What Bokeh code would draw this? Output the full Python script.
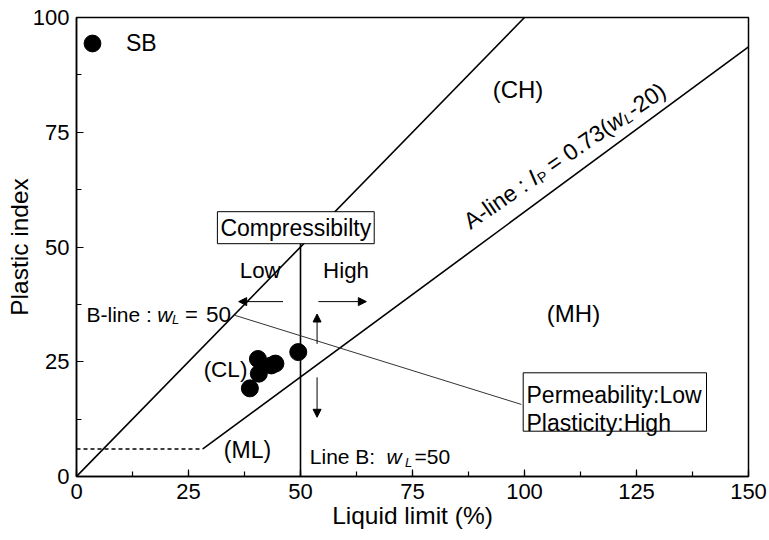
import math
from bokeh.plotting import figure
from bokeh.models import (Range1d, Label, Arrow, NormalHead, SingleIntervalTicker, Legend,
                          LegendItem, BoxAnnotation)
from bokeh.embed import file_html
from bokeh.resources import INLINE

# ---------------- data ----------------
sb_x = [40.5, 44.4, 43.5, 40.7, 38.7, 49.5]
sb_y = [25.6, 24.6, 24.2, 22.4, 19.2, 27.1]

u_line_x = [0, 100]
u_line_y = [0, 100]
a_line_x = [28.2, 150]
a_line_y = [6, 93.6]
ml_dash_x = [0, 28.2]
ml_dash_y = [6, 6]
line_b_x = [50, 50]
line_b_y = [0, 51]
connector_x = [35.4, 99.3]
connector_y = [35.1, 15.7]

x_ticks = [0, 25, 50, 75, 100, 125, 150]
y_ticks = [0, 25, 50, 75, 100]

# pixel -> data helpers (frame: left 76, right 748, top 17, bottom 476)
L, R, T, B = 76, 748, 17, 476
XS = (R - L) / 150.0
YS = (B - T) / 100.0
def dx(px):
    return (px - L) / XS
def dy(py):
    return (B - py) / YS

FONT = "Liberation Sans"

p = figure(width=769, height=540, x_range=Range1d(0, 150), y_range=Range1d(0, 100),
           output_backend="svg", toolbar_location=None,
           min_border_left=L, min_border_right=769 - R, min_border_top=T, min_border_bottom=540 - B)
p.grid.visible = False
p.outline_line_color = "black"
p.outline_line_width = 1.5
p.background_fill_color = "white"
p.border_fill_color = "white"

for ax, ticks in ((p.xaxis, x_ticks), (p.yaxis, y_ticks)):
    ax.ticker = SingleIntervalTicker(interval=ticks[1] - ticks[0], num_minor_ticks=2)
    ax.major_tick_in = 7
    ax.major_tick_out = 0
    ax.minor_tick_in = 5
    ax.minor_tick_out = 0
    ax.axis_line_width = 1.5
    ax.major_tick_line_width = 1.2
    ax.minor_tick_line_width = 1.2
    ax.axis_line_color = "black"
    ax.major_label_text_font = FONT
    ax.major_label_text_font_size = "22px"
    ax.major_label_text_color = "black"
    ax.axis_label_text_font = FONT
    ax.axis_label_text_font_size = "24.5px"
    ax.axis_label_text_font_style = "normal"
    ax.axis_label_text_color = "black"
    ax.major_label_standoff = 7

p.xaxis.axis_label = "Liquid limit (%)"
p.yaxis.axis_label = "Plastic index"
p.xaxis.axis_label_standoff = 0
p.yaxis.axis_label_standoff = -3

# lines
p.line(u_line_x, u_line_y, line_color="black", line_width=1.6)
p.line(a_line_x, a_line_y, line_color="black", line_width=1.6)
p.line(ml_dash_x, ml_dash_y, line_color="black", line_width=1.4, line_dash="4 3")
p.line(line_b_x, line_b_y, line_color="black", line_width=1.6)
p.line(connector_x, connector_y, line_color="#333333", line_width=1)

# data points
pts = p.scatter(sb_x, sb_y, size=17, color="black", marker="circle")
legend = Legend(items=[LegendItem(label="SB", renderers=[pts])], location=(-5, 412),
                glyph_width=42, glyph_height=42, padding=0, margin=0, spacing=0,
                label_standoff=13, label_text_font=FONT, label_text_font_size="23px",
                label_text_color="black", border_line_alpha=0, background_fill_alpha=0)
p.add_layout(legend, "center")

# arrows
arrow_segments = [
    ((46.1, 38.1), (36.2, 38.1)),
    ((54.0, 38.1), (64.7, 38.1)),
    ((53.7, 28.9), (53.7, 35.4)),
    ((53.7, 21.6), (53.7, 12.9)),
]
for (x0, y0), (x1, y1) in arrow_segments:
    p.add_layout(Arrow(end=NormalHead(size=8, fill_color="black", line_color="black", line_width=1),
                       x_start=x0, y_start=y0, x_end=x1, y_end=y1, line_width=1, line_color="black"))

def lab(text, px, py, size="21px", align="center", baseline="middle", style="normal", angle=0.0, **kw):
    p.add_layout(Label(x=dx(px), y=dy(py), text=text, text_font=FONT, text_font_size=size,
                       text_align=align, text_baseline=baseline, text_font_style=style,
                       text_color="black", angle=angle, **kw))

# region labels
lab("(CH)", 517.5, 89, size="24px")
lab("(MH)", 573, 313, size="24px")
lab("(CL)", 225, 369, size="22.5px")
lab("(ML)", 247, 449, size="23px")
lab("Low", 259.7, 269.5, size="22.3px")
lab("High", 345.5, 269.5, size="22.3px")

# boxed labels
lab("Compressibilty", 295.3, 227.2, size="23px", border_line_color="black", border_line_width=1,
    background_fill_color="white", padding=3)

p.add_layout(BoxAnnotation(left=dx(522.7), right=dx(706), top=dy(372.3), bottom=dy(430.7),
                           fill_color="white", fill_alpha=1, line_color="black",
                           line_alpha=1, line_width=1))
lab("Permeability:Low", 526, 394.3, size="23px", align="left", baseline="alphabetic")
lab("Plasticity:High", 526, 422.5, size="23px", align="left", baseline="alphabetic")

# B-line label
lab("B-line : ", 86, 314, baseline="alphabetic", align="left")
lab("w", 156.7, 314, baseline="alphabetic", align="left", style="italic")
lab("L", 171.5, 319, size="13px", baseline="alphabetic", align="left", style="italic")
lab("=", 184.5, 314, size="22px", baseline="alphabetic", align="left")
lab("50", 205.5, 314, size="22.5px", baseline="alphabetic", align="left")

# Line B label
lab("Line B:", 309.3, 456, baseline="alphabetic", align="left")
lab("w", 386, 456, baseline="alphabetic", align="left", style="italic")
lab("L", 404.5, 462, size="13px", baseline="alphabetic", align="left", style="italic")
lab("=50", 414, 456, baseline="alphabetic", align="left")

# A-line label (rotated pieces)
ang = math.radians(34.5)
ca, sa = math.cos(ang), math.sin(ang)
P0 = (465.5, 223)
k = 23 / 22.0
pieces = [
    ("A-line :", 0.0, 0, "23px", "normal"),
    ("I", 74.6 * k, 0, "23px", "italic"),
    ("P", 81.0 * k, 5, "14.5px", "normal"),
    ("= 0.73(", 96.1 * k, 0, "23px", "normal"),
    ("w", 165.2 * k, 0, "23px", "italic"),
    ("L", 181.3 * k, 5, "14.5px", "italic"),
    ("-20)", 189.5 * k, 0, "23px", "normal"),
]
for txt, s, down, size, style in pieces:
    px = P0[0] + s * ca + down * sa
    py = P0[1] - s * sa + down * ca
    lab(txt, px, py, size=size, align="left", baseline="alphabetic", style=style, angle=ang)

open("out.html", "w").write(file_html(p, INLINE))
